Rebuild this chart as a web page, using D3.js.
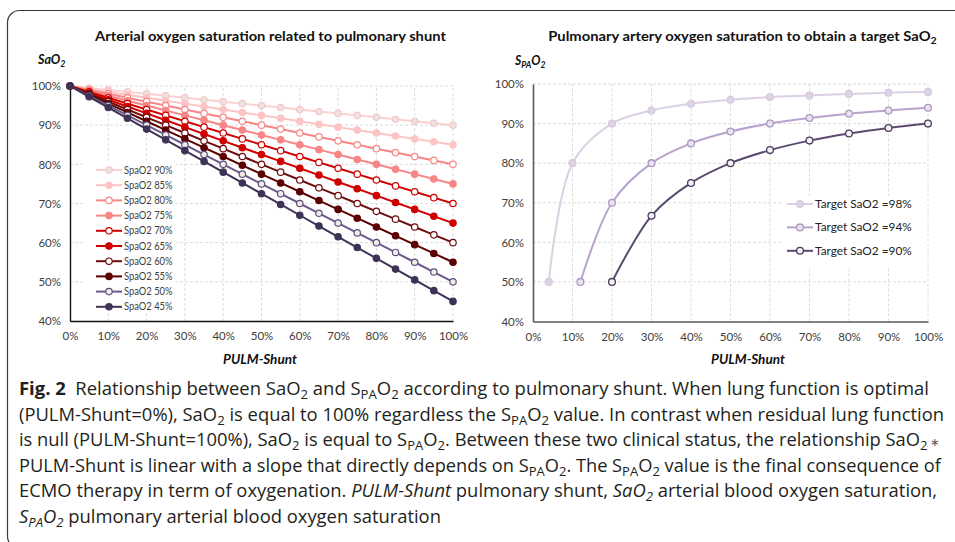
<!DOCTYPE html>
<html>
<head>
<meta charset="utf-8">
<script src="https://cdn.jsdelivr.net/npm/d3@7"></script>
<style>
  body { margin: 0; background: #fff; }
  svg { display: block; }
</style>
</head>
<body>
<div id="fig"></div>
<script>
const width = 955
const height = 542

// ---- left chart data: SaO2 vs pulmonary shunt, one series per SpaO2 level
const shunt = [0,5,10,15,20,25,30,35,40,45,50,55,60,65,70,75,80,85,90,95,100]
const spaLabels = ["SpaO2 90%","SpaO2 85%","SpaO2 80%","SpaO2 75%","SpaO2 70%","SpaO2 65%","SpaO2 60%","SpaO2 55%","SpaO2 50%","SpaO2 45%"]
const sao2_90 = [100,99.5,99,98.5,98,97.5,97,96.5,96,95.5,95,94.5,94,93.5,93,92.5,92,91.5,91,90.5,90]
const sao2_85 = [100,99.25,98.5,97.75,97,96.25,95.5,94.75,94,93.25,92.5,91.75,91,90.25,89.5,88.75,88,87.25,86.5,85.75,85]
const sao2_80 = [100,99,98,97,96,95,94,93,92,91,90,89,88,87,86,85,84,83,82,81,80]
const sao2_75 = [100,98.75,97.5,96.25,95,93.75,92.5,91.25,90,88.75,87.5,86.25,85,83.75,82.5,81.25,80,78.75,77.5,76.25,75]
const sao2_70 = [100,98.5,97,95.5,94,92.5,91,89.5,88,86.5,85,83.5,82,80.5,79,77.5,76,74.5,73,71.5,70]
const sao2_65 = [100,98.25,96.5,94.75,93,91.25,89.5,87.75,86,84.25,82.5,80.75,79,77.25,75.5,73.75,72,70.25,68.5,66.75,65]
const sao2_60 = [100,98,96,94,92,90,88,86,84,82,80,78,76,74,72,70,68,66,64,62,60]
const sao2_55 = [100,97.75,95.5,93.25,91,88.75,86.5,84.25,82,79.75,77.5,75.25,73,70.75,68.5,66.25,64,61.75,59.5,57.25,55]
const sao2_50 = [100,97.5,95,92.5,90,87.5,85,82.5,80,77.5,75,72.5,70,67.5,65,62.5,60,57.5,55,52.5,50]
const sao2_45 = [100,97.25,94.5,91.75,89,86.25,83.5,80.75,78,75.25,72.5,69.75,67,64.25,61.5,58.75,56,53.25,50.5,47.75,45]

// ---- right chart data: SpaO2 needed for a target SaO2
const targetLabels = ["Target SaO2 =98%","Target SaO2 =94%","Target SaO2 =90%"]
const shunt98 = [4,10,20,30,40,50,60,70,80,90,100]
const spa98 = [50,80,90,93.3,95,96,96.7,97.1,97.5,97.8,98]
const shunt94 = [12,20,30,40,50,60,70,80,90,100]
const spa94 = [50,70,80,85,88,90,91.4,92.5,93.3,94]
const shunt90 = [20,30,40,50,60,70,80,90,100]
const spa90 = [50,66.7,75,80,83.3,85.7,87.5,88.9,90]

const xTicks = [0,10,20,30,40,50,60,70,80,90,100]
const yTicks = [40,50,60,70,80,90,100]

// caption, as [text, kind] pieces
const captionLines = [
  [["Fig. 2","b"],["  Relationship between SaO",""],["2","sub"],[" and S",""],["PA","sub"],["O",""],["2","sub"],[" according to pulmonary shunt. When lung function is optimal",""]],
  [["(PULM-Shunt=0%), SaO",""],["2","sub"],[" is equal to 100% regardless the S",""],["PA","sub"],["O",""],["2","sub"],[" value. In contrast when residual lung function",""]],
  [["is null (PULM-Shunt=100%), SaO",""],["2","sub"],[" is equal to S",""],["PA","sub"],["O",""],["2","sub"],[". Between these two clinical status, the relationship SaO",""],["2","sub"],[" \u2217","star"]],
  [["PULM-Shunt is linear with a slope that directly depends on S",""],["PA","sub"],["O",""],["2","sub"],[". The S",""],["PA","sub"],["O",""],["2","sub"],[" value is the final consequence of",""]],
  [["ECMO therapy in term of oxygenation. ",""],["PULM-Shunt","i"],[" pulmonary shunt, ",""],["SaO","i"],["2","isub"],[" arterial blood oxygen saturation,",""]],
  [["S","i"],["PA","isub"],["O","i"],["2","isub"],[" pulmonary arterial blood oxygen saturation",""]]
]
const captionEnds = [930, 945, 941, 943, 938]

const leftSeries = [sao2_90,sao2_85,sao2_80,sao2_75,sao2_70,sao2_65,sao2_60,sao2_55,sao2_50,sao2_45]
const leftStyle = [
  {line:"#fcd0d0", stroke:"#f6c8c8", fill:"#ebe3de"},
  {line:"#fcc4c4", stroke:"#fcc4c4", fill:"#fcc4c4"},
  {line:"#f88686", stroke:"#f88686", fill:"#ffffff"},
  {line:"#f88686", stroke:"#f88686", fill:"#f88686"},
  {line:"#d00000", stroke:"#d00000", fill:"#ffffff"},
  {line:"#d00000", stroke:"#d00000", fill:"#d00000"},
  {line:"#6e0c0c", stroke:"#6e0c0c", fill:"#ffffff"},
  {line:"#5c0000", stroke:"#5c0000", fill:"#5c0000"},
  {line:"#6b5a8a", stroke:"#5e4e7c", fill:"#f1ece8"},
  {line:"#3e3356", stroke:"#3e3356", fill:"#3e3356"}
]
const rightSeries = [[shunt98, spa98],[shunt94, spa94],[shunt90, spa90]]
const rightStyle = [
  {line:"#dbd0e4", stroke:"#d6cadf", fill:"#ddd5e3"},
  {line:"#b9a3cc", stroke:"#ae98c2", fill:"#e9e2ef"},
  {line:"#5b4b6f", stroke:"#4c3d5e", fill:"#f4f0f4"}
]

const chartFont = "Lato, 'Open Sans', sans-serif"
const tickColor = "#404040"

const svg = d3.select("#fig").append("svg")
    .attr("width", width)
    .attr("height", height)
    .style("font-family", chartFont)

// frame round both charts and the caption
svg.append("rect")
    .attr("x", 7.5).attr("y", 10.5)
    .attr("width", 1000).attr("height", 538)
    .attr("rx", 12)
    .attr("fill", "none")
    .attr("stroke", "#3a3a3a")
    .attr("stroke-width", 1.2)

// squeeze or stretch a text horizontally to the width
function fitX(sel, target, anchor) {
  const b = sel.node().getBBox()
  const s = target / b.width
  const cx = anchor === "middle" ? b.x + b.width / 2 : b.x
  sel.attr("transform", `translate(${cx},0) scale(${s},1) translate(${-cx},0)`)
}

function subText(sel, parts, subSize) {
  let down = false
  parts.forEach(([t, s]) => {
    const ts = sel.append("tspan").text(t)
    if (s && !down) { ts.attr("dy", 3.5).attr("font-size", subSize); down = true }
    else if (s) { ts.attr("font-size", subSize) }
    else if (down) { ts.attr("dy", -3.5); down = false }
  })
  return sel
}

function drawPanel(g, x, y, axisColor, axisWidth) {
  g.append("g").selectAll("line").data(xTicks.slice(1)).join("line")
      .attr("x1", d => x(d)).attr("x2", d => x(d))
      .attr("y1", y(40)).attr("y2", y(100))
      .attr("stroke", "#dcdcdc").attr("stroke-dasharray", "3,2")
  g.append("g").selectAll("line").data(yTicks.slice(1)).join("line")
      .attr("x1", x(0)).attr("x2", x(100))
      .attr("y1", d => y(d)).attr("y2", d => y(d))
      .attr("stroke", "#dcdcdc").attr("stroke-dasharray", "3,2")

  const ax = g.append("g").attr("transform", `translate(0,${y(40)})`)
      .call(d3.axisBottom(x).tickValues(xTicks).tickSize(0).tickPadding(11).tickFormat(d => d + "%"))
  const ay = g.append("g").attr("transform", `translate(${x(0)},0)`)
      .call(d3.axisLeft(y).tickValues(yTicks).tickSize(0).tickPadding(9).tickFormat(d => d + "%"))
  ;[ax, ay].forEach(a => {
    a.select(".domain").attr("stroke", axisColor).attr("stroke-width", axisWidth)
    a.selectAll("text").attr("fill", tickColor).attr("font-size", 11.5).attr("font-family", chartFont)
  })
}

// ---------------- left chart ----------------
const xL = d3.scaleLinear().domain([0, 100]).range([70, 453])
const yL = d3.scaleLinear().domain([40, 100]).range([321, 86])
const left = svg.append("g")
drawPanel(left, xL, yL, "#111", 1.4)

const lineL = d3.line().x((d, i) => xL(shunt[i])).y(d => yL(d))
leftSeries.forEach((vals, k) => {
  const st = leftStyle[k]
  const s = left.append("g")
  s.append("path").attr("d", lineL(vals))
      .attr("fill", "none").attr("stroke", st.line).attr("stroke-width", 2)
  s.selectAll("circle").data(vals).join("circle")
      .attr("cx", (d, i) => xL(shunt[i])).attr("cy", d => yL(d)).attr("r", 3.2)
      .attr("fill", st.fill).attr("stroke", st.stroke).attr("stroke-width", 1.2)
})

// legend
const legL = left.append("g")
legL.append("rect").attr("x", 84).attr("y", 161).attr("width", 93).attr("height", 152).attr("fill", "#fff")
spaLabels.forEach((lab, k) => {
  const st = leftStyle[k]
  const ly = 170 + k * 15.2
  legL.append("line").attr("x1", 96).attr("x2", 122).attr("y1", ly).attr("y2", ly)
      .attr("stroke", st.line).attr("stroke-width", 2)
  legL.append("circle").attr("cx", 109).attr("cy", ly).attr("r", 3.2)
      .attr("fill", st.fill).attr("stroke", st.stroke).attr("stroke-width", 1.2)
  fitX(legL.append("text").attr("x", 124).attr("y", ly + 3.6).text(lab)
      .attr("font-size", 10.6).attr("fill", tickColor), 49)
})

fitX(left.append("text").attr("x", 270.5).attr("y", 41).attr("text-anchor", "middle")
    .attr("font-size", 14).attr("font-weight", "bold").attr("fill", "#111")
    .text("Arterial oxygen saturation related to pulmonary shunt"), 353, "middle")
fitX(subText(left.append("text").attr("x", 38).attr("y", 64)
    .attr("font-size", 13.5).attr("font-weight", "bold").attr("font-style", "italic").attr("fill", "#111"),
    [["SaO", false], ["2", true]], 9.5), 29)
fitX(left.append("text").attr("x", 260).attr("y", 364.5).attr("text-anchor", "middle")
    .attr("font-size", 13.5).attr("font-weight", "bold").attr("font-style", "italic").attr("fill", "#111")
    .text("PULM-Shunt"), 74, "middle")

// ---------------- right chart ----------------
const xR = d3.scaleLinear().domain([0, 100]).range([533, 928])
const yR = d3.scaleLinear().domain([40, 100]).range([321.5, 84])
const right = svg.append("g")
drawPanel(right, xR, yR, "#595959", 1.6)

const lineR = d3.line().curve(d3.curveCatmullRom.alpha(0.5))
rightSeries.forEach(([xs, ys], k) => {
  const st = rightStyle[k]
  const pts = xs.map((v, i) => [xR(v), yR(ys[i])])
  const s = right.append("g")
  s.append("path").attr("d", lineR(pts))
      .attr("fill", "none").attr("stroke", st.line).attr("stroke-width", 2)
  s.selectAll("circle").data(pts).join("circle")
      .attr("cx", d => d[0]).attr("cy", d => d[1]).attr("r", 3.4)
      .attr("fill", st.fill).attr("stroke", st.stroke).attr("stroke-width", 1.3)
})

const legR = right.append("g")
legR.append("rect").attr("x", 783).attr("y", 196).attr("width", 142).attr("height", 71).attr("fill", "#fff")
targetLabels.forEach((lab, k) => {
  const st = rightStyle[k]
  const ly = 204 + k * 23.4
  legR.append("line").attr("x1", 787).attr("x2", 813).attr("y1", ly).attr("y2", ly)
      .attr("stroke", st.line).attr("stroke-width", 2)
  legR.append("circle").attr("cx", 800).attr("cy", ly).attr("r", 3.4)
      .attr("fill", st.fill).attr("stroke", st.stroke).attr("stroke-width", 1.3)
  fitX(legR.append("text").attr("x", 815).attr("y", ly + 4).text(lab)
      .attr("font-size", 12.2).attr("fill", "#222"), 97)
})

fitX(subText(right.append("text").attr("x", 742.5).attr("y", 41).attr("text-anchor", "middle")
    .attr("font-size", 14).attr("font-weight", "bold").attr("fill", "#111"),
    [["Pulmonary artery oxygen saturation to obtain a target SaO", false], ["2", true]], 10), 389, "middle")
fitX(subText(right.append("text").attr("x", 515).attr("y", 65)
    .attr("font-size", 13.5).attr("font-weight", "bold").attr("font-style", "italic").attr("fill", "#111"),
    [["S", false], ["PA", true], ["O", false], ["2", true]], 9.5), 32)
fitX(right.append("text").attr("x", 748).attr("y", 364.5).attr("text-anchor", "middle")
    .attr("font-size", 13.5).attr("font-weight", "bold").attr("font-style", "italic").attr("fill", "#111")
    .text("PULM-Shunt"), 74, "middle")

// ---------------- caption ----------------
const cap = svg.append("g")
    .style("font-family", "'Open Sans', 'Noto Sans', sans-serif")
    .attr("fill", "#231f20")
const capX = 19
const scales = []
captionLines.forEach((parts, li) => {
  const t = cap.append("text").attr("x", capX).attr("y", 395 + li * 25.6)
      .attr("font-size", 17.5).style("white-space", "pre")
  let down = false
  parts.forEach(([txt, kind]) => {
    const ts = t.append("tspan").text(txt)
    const isSub = kind === "sub" || kind === "isub"
    if (kind === "b") ts.attr("font-weight", "bold")
    if (kind === "i" || kind === "isub") ts.attr("font-style", "italic")
    if (isSub) ts.attr("font-size", 12.5)
    if (kind === "star") ts.attr("font-size", 11).attr("fill", "#555")
    if (isSub && !down) { ts.attr("dy", 4); down = true }
    else if (!isSub && down) { ts.attr("dy", -4); down = false }
  })
  const s = li < captionEnds.length
    ? (captionEnds[li] - capX) / t.node().getBBox().width
    : d3.mean(scales)
  scales.push(s)
  t.attr("transform", `translate(${capX},0) scale(${s},1) translate(${-capX},0)`)
})
</script>
</body>
</html>
